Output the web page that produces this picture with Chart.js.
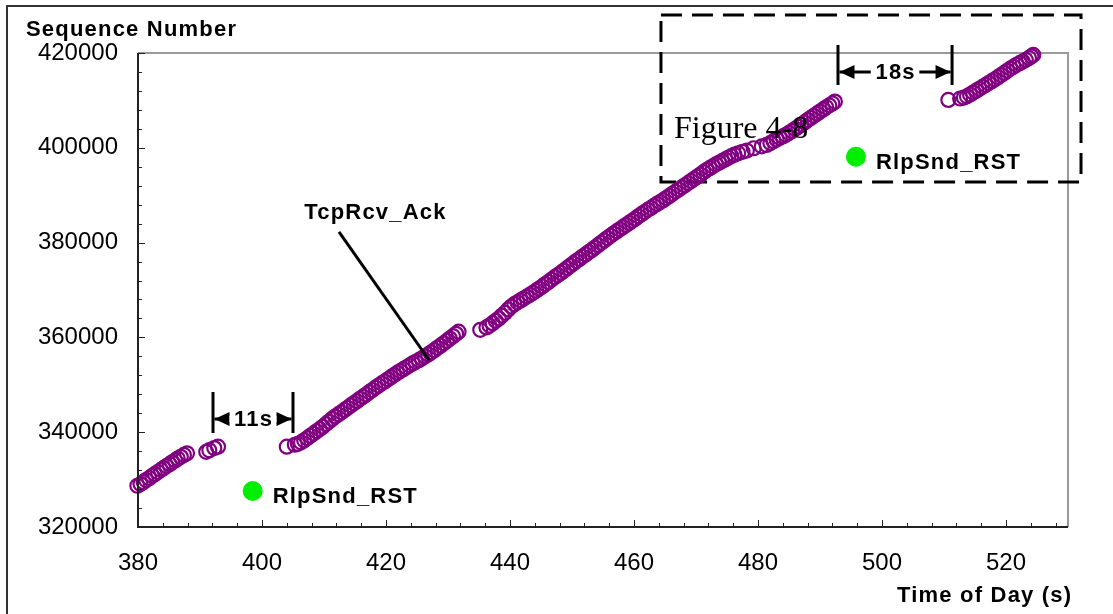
<!DOCTYPE html>
<html><head><meta charset="utf-8">
<script src="https://cdn.jsdelivr.net/npm/chart.js@4.4.0/dist/chart.umd.min.js"></script>
<style>html,body{margin:0;padding:0;background:#fff}#wrap{width:1113px;height:614px;position:relative}</style>
</head><body><div id="wrap"><canvas id="c" width="1113" height="614"></canvas></div>
<script>
// ---- Data ----
const tcpTime = [
 379.9,380.4,380.9,381.3,381.8,382.3,382.7,383.2,383.7,384.1,384.6,385.1,385.5,386.0,386.4,386.9,387.4,387.9,
 391.0,391.5,392.3,392.9,
 404.0,405.3,405.8,406.3,406.8,407.3,407.8,408.3,408.8,409.3,409.8,410.3,410.8,411.3,411.8,412.3,412.8,413.3,413.8,414.3,414.8,415.3,415.8,416.3,416.8,417.3,417.8,418.3,418.8,419.3,419.8,420.3,420.8,421.3,421.8,422.3,422.8,423.3,423.8,424.3,424.8,425.3,425.8,426.3,426.8,427.3,427.8,428.3,428.8,429.3,429.8,430.3,430.8,431.3,431.7,
 435.2,436.2,436.7,437.2,437.7,438.2,438.7,439.2,439.7,440.2,440.7,441.2,441.7,442.2,442.7,443.2,443.7,444.2,444.7,445.2,445.7,446.2,446.7,447.2,447.7,448.2,448.7,449.2,449.7,450.2,450.7,451.2,451.7,452.2,452.7,453.2,453.7,454.2,454.7,455.2,455.7,456.2,456.7,457.2,457.7,458.2,458.7,459.2,459.7,460.2,460.7,461.2,461.7,462.2,462.7,463.2,463.7,464.2,464.7,465.2,465.7,466.2,466.7,467.2,467.7,468.2,468.7,469.2,469.7,470.2,470.7,471.2,471.7,472.2,472.7,473.2,473.7,474.2,474.7,475.2,475.7,476.2,476.8,477.5,478.2,479.3,480.6,481.4,482.0,482.5,483.0,483.5,484.0,484.5,485.0,485.5,486.0,486.5,487.0,487.5,488.0,488.5,489.0,489.5,490.0,490.5,491.0,491.5,492.0,492.4,
 510.7,512.6,513.2,513.7,514.2,514.7,515.2,515.7,516.2,516.7,517.2,517.7,518.2,518.7,519.2,519.7,520.2,520.7,521.2,521.7,522.2,522.7,523.2,523.7,524.1,524.4
];
const tcpSeq = [
 328700,329050,329500,329900,330300,330800,331150,331600,332050,332400,332850,333250,333650,334050,334450,334800,335200,335550,
 335850,336200,336650,336950,
 336950,337350,337550,337850,338300,338750,339250,339700,340200,340650,341150,341700,342250,342800,343300,343750,344200,344700,345150,345650,346100,346550,347050,347500,347950,348450,348900,349400,349850,350300,350700,351150,351600,352050,352500,352900,353300,353700,354100,354500,354850,355200,355600,356000,356400,356850,357300,357800,358250,358750,359250,359750,360250,360750,361200,
 361600,362100,362500,363000,363500,364000,364600,365200,365900,366500,367000,367400,367800,368200,368600,369000,369400,369850,370300,370750,371250,371700,372200,372700,373150,373600,374100,374600,375100,375600,376100,376550,377050,377500,378000,378450,378950,379450,379950,380450,380950,381450,381900,382350,382800,383250,383700,384150,384600,385050,385550,386000,386450,386900,387300,387750,388150,388550,388950,389400,389850,390300,390750,391200,391650,392100,392550,393000,393450,393900,394350,394850,395300,395700,396100,396500,396850,397200,397550,397900,398250,398550,398850,399150,399400,399900,400300,400600,401000,401400,401750,402100,402400,402750,403150,403550,404000,404450,404900,405350,405850,406300,406750,407200,407650,408100,408550,408950,409350,409750,
 410100,410400,410600,410850,411250,411650,412050,412450,412850,413250,413650,414050,414450,414900,415350,415800,416250,416700,417100,417500,417850,418200,418550,418950,419300,419600
];
const rstTime = [398.5, 495.8];
const rstSeq  = [327600, 398120];
const xTickValues = [380, 400, 420, 440, 460, 480, 500, 520];
const yTickValues = [320000, 340000, 360000, 380000, 400000, 420000];
const seriesLabels = ['TcpRcv_Ack', 'RlpSnd_RST'];
const axisTitles = {y: 'Sequence Number', x: 'Time of Day (s)'};
const gapLabels = ['11s', '18s'];
const figureLabel = 'Figure 4-8';

// ---- annotation placement (in data units) ----
const gaps = [
  {from: 392.1, to: 405.0, top: 348480, bottom: 339830, arrow: 342780, text: gapLabels[0]},
  {from: 492.9, to: 511.3, top: 421690, bottom: 413250, arrow: 415990, text: gapLabels[1]}
];
const boxRegion = {x0: 464.35, x1: 532.1, y0: 428017, y1: 392785};

const BOLD = 'bold 22px "Liberation Sans", Arial, sans-serif';

const decor = {
  id: 'decor',
  beforeDraw(chart) {
    const ctx = chart.ctx;
    ctx.save();
    ctx.fillStyle = '#fff';
    ctx.fillRect(0, 0, chart.width, chart.height);
    ctx.strokeStyle = '#333';
    ctx.lineWidth = 2;
    ctx.beginPath();
    ctx.moveTo(7, 614); ctx.lineTo(7, 6); ctx.lineTo(1113, 6);
    ctx.stroke();
    ctx.restore();
  },
  beforeDatasetsDraw(chart) {
    const {ctx, chartArea: a, scales: {x, y}} = chart;
    ctx.save();
    ctx.strokeStyle = '#9a9a9a';
    ctx.lineWidth = 2;
    ctx.beginPath();
    ctx.moveTo(a.left, a.top); ctx.lineTo(a.right, a.top); ctx.lineTo(a.right, a.bottom);
    ctx.stroke();
    ctx.strokeStyle = '#000';
    ctx.lineWidth = 3;
    ctx.setLineDash([21, 10]);
    const bx0 = x.getPixelForValue(boxRegion.x0), bx1 = x.getPixelForValue(boxRegion.x1);
    const by0 = y.getPixelForValue(boxRegion.y0), by1 = y.getPixelForValue(boxRegion.y1);
    ctx.strokeRect(bx0, by0, bx1 - bx0, by1 - by0);
    ctx.restore();
  },
  afterDatasetsDraw(chart) {
    const {ctx, chartArea: a, scales: {x, y}} = chart;
    ctx.save();
    ctx.strokeStyle = '#222';
    ctx.lineWidth = 2;
    ctx.beginPath();
    ctx.moveTo(a.left, a.top); ctx.lineTo(a.left, a.bottom); ctx.lineTo(a.right, a.bottom);
    ctx.stroke();
    ctx.lineWidth = 1;
    ctx.beginPath();
    for (let v = x.min; v <= x.max - 1; v += 4) {
      const px = Math.round(x.getPixelForValue(v)) + 0.5;
      const len = (v % 20 === 0) ? 7 : 4;
      ctx.moveTo(px, a.bottom); ctx.lineTo(px, a.bottom - len);
    }
    for (let v = y.min; v <= y.max; v += 4000) {
      const py = Math.round(y.getPixelForValue(v)) + 0.5;
      const len = (v % 20000 === 0) ? 7 : 4;
      ctx.moveTo(a.left, py); ctx.lineTo(a.left + len, py);
    }
    ctx.stroke();

    ctx.fillStyle = '#000';
    ctx.strokeStyle = '#000';
    ctx.font = BOLD;
    ctx.letterSpacing = '1.2px';
    ctx.textBaseline = 'alphabetic';
    ctx.textAlign = 'left';
    ctx.fillText(axisTitles.y, 26, 36);
    ctx.fillText(axisTitles.x, 897, 602);

    gaps.forEach(g => {
      const x0 = x.getPixelForValue(g.from), x1 = x.getPixelForValue(g.to);
      const yt = y.getPixelForValue(g.top), yb = y.getPixelForValue(g.bottom);
      const ya = y.getPixelForValue(g.arrow);
      ctx.lineWidth = 3;
      ctx.beginPath();
      ctx.moveTo(x0, yt); ctx.lineTo(x0, yb);
      ctx.moveTo(x1, yt); ctx.lineTo(x1, yb);
      ctx.stroke();
      const tw = ctx.measureText(g.text).width;
      const cx = (x0 + x1) / 2;
      const tl = cx - tw / 2 - 4, tr = cx + tw / 2 + 4;
      ctx.beginPath();
      ctx.moveTo(x0 + 1.5, ya); ctx.lineTo(tl, ya);
      ctx.moveTo(tr, ya); ctx.lineTo(x1 - 1.5, ya);
      ctx.stroke();
      const L = 15, H = 7;
      ctx.beginPath();
      ctx.moveTo(x0 + 1.5, ya); ctx.lineTo(x0 + 1.5 + L, ya - H); ctx.lineTo(x0 + 1.5 + L, ya + H); ctx.closePath();
      ctx.moveTo(x1 - 1.5, ya); ctx.lineTo(x1 - 1.5 - L, ya - H); ctx.lineTo(x1 - 1.5 - L, ya + H); ctx.closePath();
      ctx.fill();
      ctx.fillStyle = '#fff';
      ctx.fillRect(tl, ya - 3, tr - tl, 6);
      ctx.fillStyle = '#000';
      ctx.textAlign = 'center';
      ctx.textBaseline = 'middle';
      ctx.fillText(g.text, cx + 0.6, ya + 1);
    });

    ctx.textBaseline = 'alphabetic';
    ctx.textAlign = 'center';
    ctx.fillText(seriesLabels[0], x.getPixelForValue(418.3), y.getPixelForValue(384980));
    ctx.lineWidth = 3;
    ctx.beginPath();
    ctx.moveTo(x.getPixelForValue(412.42), y.getPixelForValue(382240));
    ctx.lineTo(x.getPixelForValue(426.94), y.getPixelForValue(355230));
    ctx.stroke();

    ctx.textAlign = 'left';
    ctx.textBaseline = 'middle';
    rstTime.forEach((t, i) => {
      ctx.fillText(seriesLabels[1], x.getPixelForValue(t) + 20, y.getPixelForValue(rstSeq[i]) + 6);
    });

    ctx.letterSpacing = '0px';
    ctx.font = '32px "Liberation Serif", "Times New Roman", serif';
    ctx.textBaseline = 'alphabetic';
    ctx.fillText(figureLabel, x.getPixelForValue(466.45), y.getPixelForValue(402070));
    ctx.restore();
  }
};

new Chart(document.getElementById('c'), {
  type: 'scatter',
  data: {
    datasets: [
      {
        label: seriesLabels[0],
        data: tcpTime.map((t, i) => ({x: t, y: tcpSeq[i]})),
        pointStyle: 'circle',
        pointRadius: 7,
        pointBorderWidth: 2.2,
        borderColor: '#800080',
        backgroundColor: 'rgba(0,0,0,0)',
        clip: false
      },
      {
        label: seriesLabels[1],
        data: rstTime.map((t, i) => ({x: t, y: rstSeq[i]})),
        pointStyle: 'circle',
        pointRadius: 10,
        pointBorderWidth: 0,
        borderColor: '#00ee00',
        backgroundColor: '#00ee00',
        clip: false
      }
    ]
  },
  options: {
    responsive: false,
    animation: false,
    devicePixelRatio: 1,
    events: [],
    layout: {padding: {top: 53, right: 45, left: 0, bottom: 0}},
    plugins: {legend: {display: false}, tooltip: {enabled: false}},
    scales: {
      x: {
        type: 'linear', min: 380, max: 530,
        afterBuildTicks: s => { s.ticks = xTickValues.map(v => ({value: v})); },
        afterFit: s => { s.height = 87; },
        grid: {display: false, drawTicks: false},
        border: {display: false},
        ticks: {color: '#000', padding: 22, maxRotation: 0, autoSkip: false,
                callback: v => String(v),
                font: {family: '"Liberation Sans", Arial, sans-serif', size: 24}}
      },
      y: {
        type: 'linear', min: 320000, max: 420000,
        afterBuildTicks: s => { s.ticks = yTickValues.map(v => ({value: v})); },
        afterFit: s => { s.width = 138; },
        grid: {display: false, drawTicks: false},
        border: {display: false},
        ticks: {color: '#000', padding: 20, autoSkip: false,
                callback: v => String(v),
                font: {family: '"Liberation Sans", Arial, sans-serif', size: 24}}
      }
    }
  },
  plugins: [decor]
});
</script>
</body></html>
